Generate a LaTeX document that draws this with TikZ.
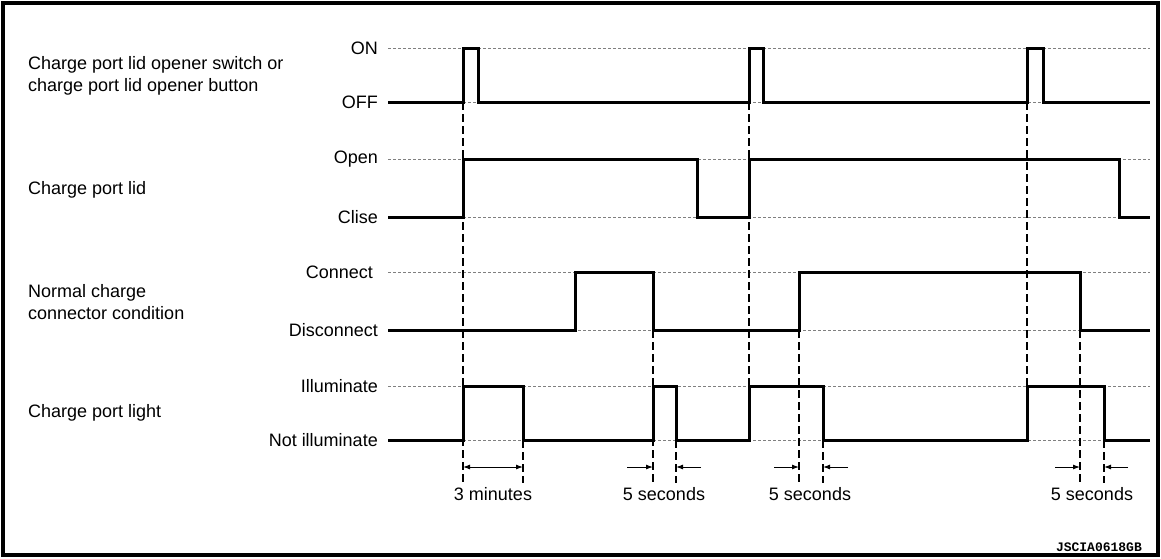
\documentclass[tikz,border=0pt]{standalone}
\usepackage{fontspec}
\setmainfont{Liberation Sans}
\newfontfamily\codefont{Liberation Mono}
\usetikzlibrary{arrows.meta}

\begin{document}
\begin{tikzpicture}[x=1pt,y=-1pt,
  every node/.style={font=\fontsize{18pt}{22pt}\selectfont,inner sep=0pt},
  signal/.style={line width=3pt},
  guide/.style={black!50,line width=0.8pt,dash pattern=on 3pt off 2pt},
  edgeline/.style={line width=1.2pt,dash pattern=on 8pt off 4pt},
  dim/.style={line width=1pt,-{Latex[length=7pt,width=5pt]}}]
  \useasboundingbox (0,0) rectangle (1161,558);
  \draw[line width=3.2pt] (3,3) rectangle (1158,555);
  % level guides
  \foreach \y in {48,102,159,217,272,330,386,440}
    \draw[guide] (388,\y) -- (1150,\y);
  % group labels
  \node[anchor=west,align=left] (switch) at (28,76) {Charge port lid opener switch or\\charge port lid opener button};
  \node[anchor=west] (lid) at (28,190) {Charge port lid};
  \node[anchor=west,align=left] (conn) at (28,302) {Normal charge\\connector condition};
  \node[anchor=west] (light) at (28,413) {Charge port light};
  % level labels
  \node[anchor=east] (on)     at (378,48)  {ON};
  \node[anchor=east] (off)    at (378,102) {OFF};
  \node[anchor=east] (open)   at (378,159) {Open};
  \node[anchor=east] (close)  at (378,217) {Clise};
  \node[anchor=east] (cn)     at (373,272) {Connect};
  \node[anchor=east] (dcn)    at (378,330) {Disconnect};
  \node[anchor=east] (illum)  at (378,386) {Illuminate};
  \node[anchor=east] (nillum) at (378,440) {Not illuminate};
  % timing edges
  \draw[edgeline] (463,102) -- (463,483);
  \draw[edgeline] (749,102) -- (749,440);
  \draw[edgeline] (1027,102) -- (1027,440);
  \foreach \x in {653,799,1080} \draw[edgeline] (\x,330) -- (\x,483);
  \foreach \x in {523,676,823,1104} \draw[edgeline] (\x,440) -- (\x,483);
  % signals
  \draw[signal] (388,102) -- (463,102) |- (478,48) |- (749,102) |- (763,48)
    |- (1027,102) |- (1043,48) |- (1150,102);
  \draw[signal] (388,217) -- (463,217) |- (697,159) |- (749,217) |- (1119,159) |- (1150,217);
  \draw[signal] (388,330) -- (575,330) |- (653,272) |- (799,330) |- (1080,272) |- (1150,330);
  \draw[signal] (388,440) -- (463,440) |- (523,386) |- (653,440) |- (676,386) |- (749,440)
    |- (823,386) |- (1027,440) |- (1104,386) |- (1150,440);
  % durations
  \draw[dim,{Latex[length=7pt,width=5pt]}-{Latex[length=7pt,width=5pt]}] (463,467) -- (523,467);
  \draw[dim] (627,467) -- (653,467);
  \draw[dim] (701,467) -- (676,467);
  \draw[dim] (774,467) -- (799,467);
  \draw[dim] (848,467) -- (823,467);
  \draw[dim] (1055,467) -- (1080,467);
  \draw[dim] (1128,467) -- (1104,467);
  \node (t1) at (493,494)  {3 minutes};
  \node (t2) at (664,494)  {5 seconds};
  \node (t3) at (810,494)  {5 seconds};
  \node (t4) at (1092,494) {5 seconds};
  \node[anchor=south east,font=\codefont\bfseries\fontsize{13pt}{13pt}\selectfont] (code) at (1142,552) {JSCIA0618GB};
\end{tikzpicture}
\end{document}
